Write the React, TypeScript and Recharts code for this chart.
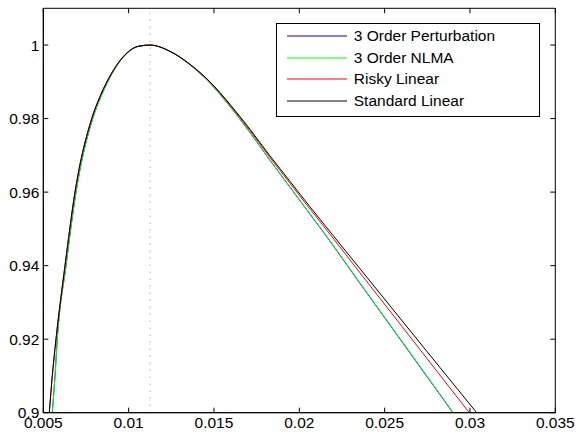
import React from 'react';
import { LineChart, Line, XAxis, YAxis, ReferenceLine, ReferenceArea, Legend } from 'recharts';

const X_TICKS = [0.005, 0.01, 0.015, 0.02, 0.025, 0.03, 0.035];
const Y_TICKS = [0.9, 0.92, 0.94, 0.96, 0.98, 1.0];
const X_DOMAIN = [0.005, 0.035];
const Y_DOMAIN = [0.9, 1.01];
const PEAK_X = 0.01125;

const SERIES_NAMES = ['3 Order Perturbation', '3 Order NLMA', 'Risky Linear', 'Standard Linear'];
const SERIES_COLORS = ['#0000ff', '#00ff00', '#ff0000', '#000000'];

const perturbX = [0.005527, 0.005686, 0.00582, 0.00633, 0.006916, 0.007894, 0.008381, 0.009043, 0.009916, 0.010566, 0.011252, 0.012424, 0.013596, 0.014767, 0.015939, 0.017111, 0.018283, 0.019455, 0.020627, 0.021213, 0.023556, 0.0259, 0.028244, 0.029005];
const perturbY = [0.9, 0.91, 0.92, 0.94, 0.96, 0.98, 0.98601, 0.99238, 0.99782, 0.99965, 1.0, 0.99825, 0.99462, 0.98965, 0.9833, 0.97621, 0.96866, 0.96135, 0.95399, 0.95037, 0.93519, 0.92005, 0.9049, 0.9];

const nlmaX = [0.005527, 0.005686, 0.00582, 0.00633, 0.006916, 0.007894, 0.008381, 0.009043, 0.009916, 0.010566, 0.011252, 0.012424, 0.013596, 0.014767, 0.015939, 0.017111, 0.018283, 0.019455, 0.020627, 0.021213, 0.023556, 0.0259, 0.028244, 0.029023];
const nlmaY = [0.9, 0.91, 0.92, 0.94, 0.96, 0.98, 0.98601, 0.99238, 0.99782, 0.99965, 1.0, 0.99826, 0.99464, 0.98968, 0.98334, 0.97627, 0.96873, 0.96143, 0.95408, 0.95046, 0.9353, 0.92017, 0.90503, 0.9];

const riskyX = [0.005352, 0.005527, 0.005744, 0.006271, 0.006857, 0.007836, 0.008322, 0.009008, 0.009887, 0.010549, 0.011252, 0.012424, 0.013596, 0.014767, 0.015939, 0.017111, 0.018283, 0.019455, 0.020627, 0.021213, 0.023556, 0.0259, 0.028244, 0.029961];
const riskyY = [0.9, 0.91, 0.92, 0.94, 0.96, 0.98, 0.98601, 0.99238, 0.99782, 0.99965, 1.0, 0.99831, 0.99475, 0.9899, 0.98367, 0.97676, 0.96943, 0.96241, 0.95539, 0.95199, 0.93805, 0.92414, 0.91021, 0.9];

const standardX = [0.005352, 0.005527, 0.005744, 0.006271, 0.006857, 0.007836, 0.008322, 0.009008, 0.009887, 0.010549, 0.011252, 0.012424, 0.013596, 0.014767, 0.015939, 0.017111, 0.018283, 0.019455, 0.020627, 0.021213, 0.023556, 0.0259, 0.028244, 0.030394];
const standardY = [0.9, 0.91, 0.92, 0.94, 0.96, 0.98, 0.98601, 0.99238, 0.99782, 0.99965, 1.0, 0.99831, 0.99477, 0.99001, 0.98389, 0.97708, 0.96987, 0.96293, 0.95599, 0.95261, 0.93917, 0.92572, 0.91228, 0.9];

const toPoints = (xs: number[], ys: number[]) => xs.map((x, i) => ({ x, y: ys[i] }));

const SERIES = [
  toPoints(perturbX, perturbY),
  toPoints(nlmaX, nlmaY),
  toPoints(riskyX, riskyY),
  toPoints(standardX, standardY),
];

const FONT = '"Liberation Sans", Arial, Helvetica, sans-serif';
const FS = 15.5;
const TICK_LEN = 5;
const MARGIN = { top: 8.3, right: 20.7, bottom: 0, left: 0 };
const CHART_W = 576;
const CHART_H = 432;
const Y_AXIS_W = 43.3;
const X_AXIS_H = 19.3;
const PLOT_TOP = MARGIN.top;
const PLOT_RIGHT = CHART_W - MARGIN.right;

const fmt = (v: number) => String(Number(v.toFixed(4)));

const BottomTick = (props: any) => {
  const { x, y, payload } = props;
  return (
    <g>
      <line x1={x} x2={x} y1={y} y2={y - TICK_LEN} stroke="#000" strokeWidth={1} />
      <line x1={x} x2={x} y1={PLOT_TOP} y2={PLOT_TOP + TICK_LEN} stroke="#000" strokeWidth={1} />
      <text x={x} y={y + 4} dy="0.71em" textAnchor="middle" fill="#000" fontSize={FS} fontFamily={FONT}>
        {fmt(payload.value)}
      </text>
    </g>
  );
};

const LeftTick = (props: any) => {
  const { x, y, payload } = props;
  return (
    <g>
      <line x1={x} x2={x + TICK_LEN} y1={y} y2={y} stroke="#000" strokeWidth={1} />
      <line x1={PLOT_RIGHT} x2={PLOT_RIGHT - TICK_LEN} y1={y} y2={y} stroke="#000" strokeWidth={1} />
      <text x={x - 4} y={y} dy="0.355em" textAnchor="end" fill="#000" fontSize={FS} fontFamily={FONT}>
        {fmt(payload.value)}
      </text>
    </g>
  );
};

const renderLegend = (props: any) => {
  const payload = [...(props.payload || [])].sort(
    (a: any, b: any) => SERIES_NAMES.indexOf(a.value) - SERIES_NAMES.indexOf(b.value)
  );
  return (
    <div
      style={{
        boxSizing: 'border-box',
        width: 264,
        height: 94,
        border: '1.3px solid #000',
        background: '#fff',
        paddingTop: 1.5,
        fontFamily: FONT,
        fontSize: FS,
        color: '#000',
      }}
    >
      {payload.map((p: any, i: number) => (
        <div key={i} style={{ display: 'flex', alignItems: 'center', height: 21.7 }}>
          <svg width={60} height={22} style={{ marginLeft: 10.4, display: 'block' }}>
            <line x1={0} x2={60} y1={11} y2={11} stroke={p.color} strokeWidth={1} />
          </svg>
          <span style={{ marginLeft: 6.7, whiteSpace: 'nowrap' }}>{p.value}</span>
        </div>
      ))}
    </div>
  );
};

export default function App() {
  return (
    <div style={{ position: 'absolute', left: 0, top: 0, background: '#fff' }}>
      <LineChart width={CHART_W} height={CHART_H} margin={MARGIN}>
        <XAxis
          type="number"
          dataKey="x"
          domain={X_DOMAIN}
          ticks={X_TICKS}
          allowDataOverflow
          height={X_AXIS_H}
          tickSize={0}
          tickMargin={0}
          tick={<BottomTick />}
          tickLine={false}
          axisLine={{ stroke: '#000', strokeWidth: 1 }}
          interval={0}
        />
        <YAxis
          type="number"
          domain={Y_DOMAIN}
          ticks={Y_TICKS}
          allowDataOverflow
          width={Y_AXIS_W}
          tickSize={0}
          tickMargin={0}
          tick={<LeftTick />}
          tickLine={false}
          axisLine={{ stroke: '#000', strokeWidth: 1 }}
          interval={0}
        />
        <ReferenceArea
          x1={X_DOMAIN[0]}
          x2={X_DOMAIN[1]}
          y1={Y_DOMAIN[0]}
          y2={Y_DOMAIN[1]}
          fill="none"
          fillOpacity={0}
          stroke="#000"
          strokeWidth={1}
          ifOverflow="visible"
        />
        <ReferenceLine
          x={PEAK_X}
          stroke="#8c8c8c"
          strokeWidth={1}
          strokeDasharray="1 6"
        />
        {SERIES.map((data, i) => (
          <Line
            key={SERIES_NAMES[i]}
            data={data}
            dataKey="y"
            name={SERIES_NAMES[i]}
            type="monotone"
            stroke={SERIES_COLORS[i]}
            strokeWidth={1}
            dot={false}
            activeDot={false}
            isAnimationActive={false}
          />
        ))}
        <Legend
          layout="vertical"
          verticalAlign="middle"
          align="center"
          content={renderLegend}
          wrapperStyle={{ left: 275.7, top: 22.7, width: 264, height: 94 }}
        />
      </LineChart>
    </div>
  );
}
